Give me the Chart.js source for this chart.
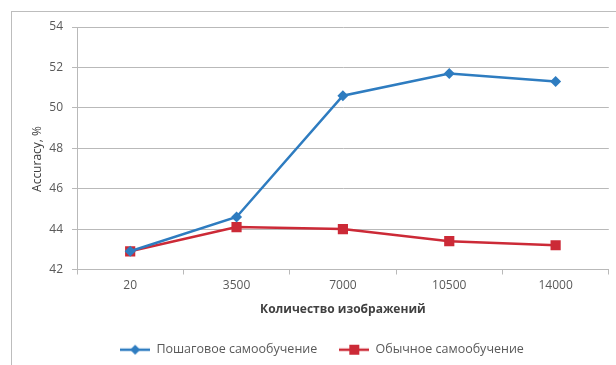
<!DOCTYPE html>
<html>
<head>
<meta charset="utf-8">
<title>Accuracy</title>
<script src="https://cdn.jsdelivr.net/npm/chart.js@4/dist/chart.umd.min.js"></script>
<style>
  html, body { margin: 0; padding: 0; background: #ffffff; overflow: hidden; }
  #frame { position: absolute; left: 11px; top: 11px; width: 700px; height: 420px; border: 1px solid #bdbdbd; }
  #wrap { position: absolute; left: 0; top: 0; width: 616px; height: 365px; }
</style>
</head>
<body>
<div id="frame"></div>
<div id="wrap"><canvas id="chart" width="616" height="365"></canvas></div>
<script>
// Number of images used for training
const categories = ['20', '3500', '7000', '10500', '14000'];
// Accuracy, %
const stepwiseSelfTraining = [42.9, 44.6, 50.6, 51.7, 51.3];
const regularSelfTraining = [42.9, 44.1, 44.0, 43.4, 43.2];
const seriesNames = ['Пошаговое самообучение', 'Обычное самообучение'];
const yMin = 42, yMax = 54, yStep = 2;

const BLUE = '#2e7cc0';
const RED = '#cc2a37';
const GRID = '#b9b9b9';
const TEXT = '#595959';
const FONT = '"Open Sans", "Liberation Sans", sans-serif';

// Legend icon: short line with the series marker in the middle
function legendIcon(color, shape) {
  const c = document.createElement('canvas');
  c.width = 30; c.height = 12;
  const g = c.getContext('2d');
  g.strokeStyle = color; g.lineWidth = 2.5;
  g.beginPath(); g.moveTo(0, 6); g.lineTo(30, 6); g.stroke();
  g.fillStyle = color;
  g.beginPath();
  if (shape === 'diamond') {
    g.moveTo(15, 1); g.lineTo(20, 6); g.lineTo(15, 11); g.lineTo(10, 6);
  } else {
    g.rect(10, 1, 10, 10);
  }
  g.closePath(); g.fill();
  return c;
}
const icons = [legendIcon(BLUE, 'diamond'), legendIcon(RED, 'square')];

// Rotated title for the value axis
const yTitlePlugin = {
  id: 'yTitle',
  afterDraw(chart) {
    const ctx = chart.ctx;
    ctx.save();
    ctx.translate(38, 159);
    ctx.rotate(-Math.PI / 2);
    ctx.font = '12px ' + FONT;
    ctx.fillStyle = '#404040';
    ctx.textAlign = 'center';
    ctx.textBaseline = 'middle';
    ctx.fillText('Accuracy, %', 0, 0);
    ctx.restore();
  }
};

new Chart(document.getElementById('chart'), {
  type: 'line',
  data: {
    labels: categories,
    datasets: [
      {
        label: seriesNames[0],
        data: stepwiseSelfTraining,
        borderColor: BLUE,
        backgroundColor: BLUE,
        borderWidth: 2.5,
        pointStyle: 'rectRot',
        pointRadius: 5.5,
        pointHoverRadius: 5.5,
        pointBorderWidth: 0,
        tension: 0
      },
      {
        label: seriesNames[1],
        data: regularSelfTraining,
        borderColor: RED,
        backgroundColor: RED,
        borderWidth: 2.5,
        pointStyle: 'rect',
        pointRadius: 7.2,
        pointHoverRadius: 7.2,
        pointBorderWidth: 0,
        tension: 0
      }
    ]
  },
  options: {
    responsive: false,
    devicePixelRatio: 1,
    animation: false,
    events: [],
    layout: { padding: { top: 27, right: 5, left: 33, bottom: -1 } },
    scales: {
      x: {
        type: 'category',
        offset: true,
        grid: { offset: true, drawOnChartArea: false, drawTicks: true, tickLength: 5, color: GRID, lineWidth: 1 },
        border: { color: GRID, width: 1 },
        ticks: { color: TEXT, font: { family: FONT, size: 12 }, padding: 4, maxRotation: 0 },
        title: {
          display: true,
          text: 'Количество изображений',
          color: '#404040',
          font: { family: FONT, size: 12, weight: 'bold' },
          padding: { top: 0, bottom: 5 }
        },
        afterFit(scale) { scale.height = 52; }
      },
      y: {
        min: yMin,
        max: yMax,
        ticks: { stepSize: yStep, color: TEXT, font: { family: FONT, size: 12 }, padding: 9 },
        grid: { color: GRID, lineWidth: 1, tickLength: 5 },
        border: { color: GRID, width: 1 },
        afterFit(scale) { scale.width = 44; }
      }
    },
    plugins: {
      tooltip: { enabled: false },
      legend: {
        position: 'bottom',
        labels: {
          usePointStyle: true,
          pointStyleWidth: 30,
          padding: 22,
          color: TEXT,
          font: { family: FONT, size: 12.5 },
          generateLabels(chart) {
            const items = Chart.defaults.plugins.legend.labels.generateLabels(chart);
            items.forEach((it, i) => { it.pointStyle = icons[i]; });
            return items;
          }
        }
      }
    }
  },
  plugins: [yTitlePlugin]
});
</script>
</body>
</html>
